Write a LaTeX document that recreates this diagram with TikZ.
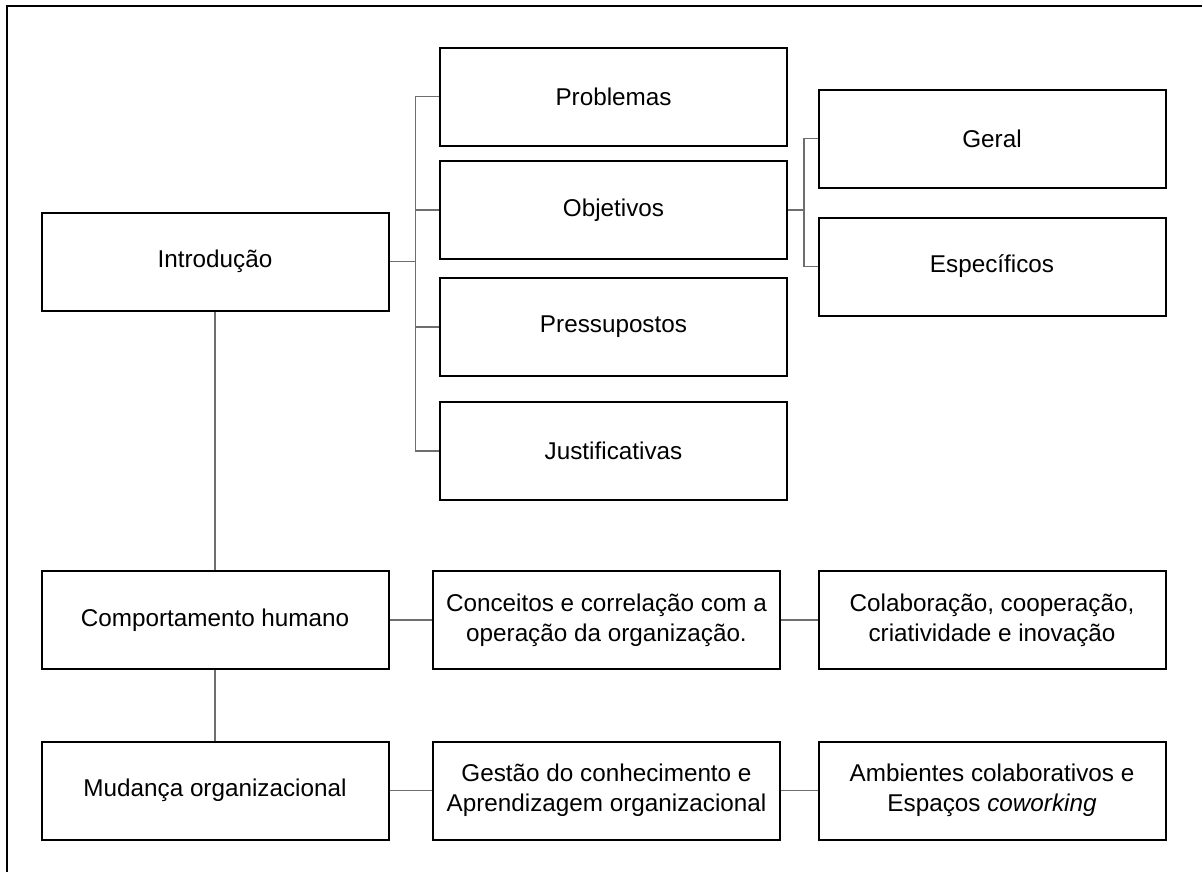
\documentclass[tikz,border=0pt]{standalone}
\usepackage{fontspec}
\setmainfont{Liberation Sans}
\usepackage{xcolor}

\begin{document}
\begin{tikzpicture}[x=0.75pt,y=0.75pt,yscale=-1,xscale=1,
  box/.style={draw,line width=1.5pt,minimum width=347*0.75pt,minimum height=98*0.75pt,
    align=center,inner sep=2pt,font=\fontsize{18.2}{22.5}\selectfont},
  link/.style={draw={rgb,255:red,110;green,110;blue,110},line width=1pt}]
\useasboundingbox (0,0) rectangle (1202,872);

%Frame (only top and left edge in view)
\draw [line width=1.8pt] (7,872) -- (7,6) -- (1202,6) ;

%Left column
\node [box] (intro) at (215,261.5) {Introdução};
\node [box] (comp) at (215,620) {Comportamento humano};
\node [box] (mud) at (215,790.5) {Mudança organizacional};

%Intro branches
\node [box] (prob) at (613.5,96.5) {Problemas};
\node [box] (obj) at (613.5,210) {Objetivos};
\node [box] (press) at (613.5,327) {Pressupostos};
\node [box] (just) at (613.5,451) {Justificativas};

%Objetivos branches
\node [box] (geral) at (992,138.5) {Geral};
\node [box] (espec) at (992,266.5) {Específicos};

%Middle and right column, lower rows
\node [box] (conc) at (606.5,620) {Conceitos e correlação com a\\operação da organização.};
\node [box] (colab) at (992,620) {Colaboração, cooperação,\\criatividade e inovação};
\node [box] (gest) at (606.5,790.5) {Gestão do conhecimento e\\Aprendizagem organizacional};
\node [box] (amb) at (992,790.5) {Ambientes colaborativos e\\Espaços \textit{coworking}};

%Connectors
\draw [link] (intro.east) -- ++(26,0) coordinate (bus) ;
\draw [link] (bus) |- (prob.west) ;
\draw [link] (bus) |- (obj.west) ;
\draw [link] (bus) |- (press.west) ;
\draw [link] (bus) |- (just.west) ;
\draw [link] (obj.east) -- ++(16,0) coordinate (subbus) ;
\draw [link] (subbus) |- (geral.west) ;
\draw [link] (subbus) |- (espec.west) ;
\draw [link] (intro.south) -- (comp.north) ;
\draw [link] (comp.south) -- (mud.north) ;
\draw [link] (comp.east) -- (conc.west) ;
\draw [link] (conc.east) -- (colab.west) ;
\draw [link] (mud.east) -- (gest.west) ;
\draw [link] (gest.east) -- (amb.west) ;

\end{tikzpicture}
\end{document}
